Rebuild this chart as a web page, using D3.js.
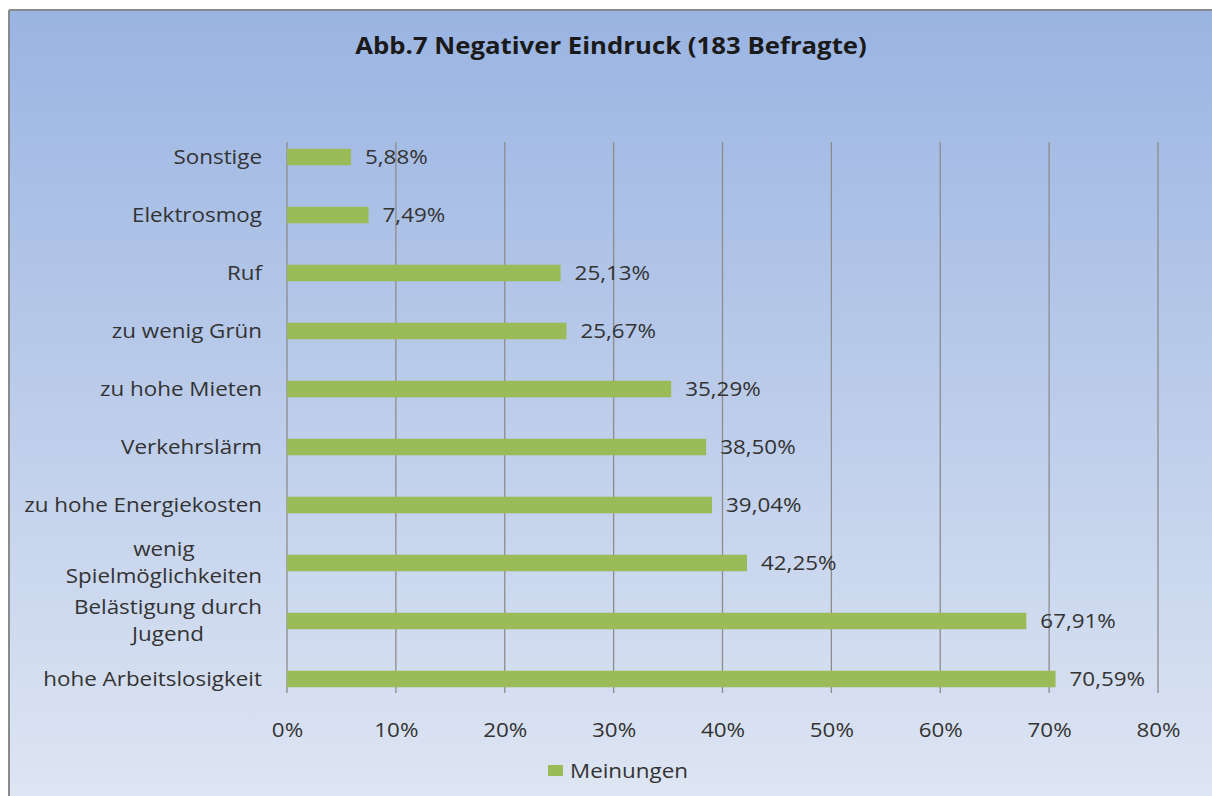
<!DOCTYPE html>
<html><head><meta charset="utf-8">
<script src="https://cdn.jsdelivr.net/npm/d3@7/dist/d3.min.js"></script>
<style>body{margin:0;background:#fff}svg{display:block}</style>
</head><body>
<svg id="c" width="1212" height="796"></svg>
<script>
const categories = ["Sonstige","Elektrosmog","Ruf","zu wenig Grün","zu hohe Mieten","Verkehrslärm","zu hohe Energiekosten","wenig Spielmöglichkeiten","Belästigung durch Jugend","hohe Arbeitslosigkeit"];
const categoryLines = [["Sonstige"],["Elektrosmog"],["Ruf"],["zu wenig Grün"],["zu hohe Mieten"],["Verkehrslärm"],["zu hohe Energiekosten"],["wenig","Spielmöglichkeiten"],["Belästigung durch","Jugend"],["hohe Arbeitslosigkeit"]];
const values = [5.88,7.49,25.13,25.67,35.29,38.50,39.04,42.25,67.91,70.59];
const ticks = [0,10,20,30,40,50,60,70,80];
const seriesName = "Meinungen";
const title = "Abb.7 Negativer Eindruck (183 Befragte)";

const svg = d3.select("#c");
const font = "'Open Sans', 'DejaVu Sans', sans-serif";
const SX = 1.12;
const defs = svg.append("defs");
const g = defs.append("linearGradient").attr("id","bg").attr("x1",0).attr("y1",0).attr("x2",0).attr("y2",1);
g.append("stop").attr("offset","0%").attr("stop-color","#9ab4e2");
g.append("stop").attr("offset","100%").attr("stop-color","#dfe6f3");
svg.append("rect").attr("x",9).attr("y",10).attr("width",1212).attr("height",800).attr("fill","url(#bg)");
svg.append("line").attr("x1",9).attr("x2",9).attr("y1",10).attr("y2",796).attr("stroke","#8a8a8a").attr("stroke-width",2);
svg.append("line").attr("x1",9).attr("x2",1212).attr("y1",10).attr("y2",10).attr("stroke","#8a8a8a").attr("stroke-width",2);

const x = d3.scaleLinear().domain([0,80]).range([287,1158]);
const y = d3.scaleBand().domain(categories).range([128,708]).paddingInner(0.715).paddingOuter(0.3575);

function stretchedText(parent, tx, ty){
  return parent.append("g").attr("transform",`translate(${tx},${ty}) scale(${SX},1)`).append("text");
}

stretchedText(svg, 611, 54).attr("text-anchor","middle")
  .attr("font-family",font).attr("font-weight","bold").attr("font-size",23).attr("fill","#1a1a1a").text(title);

// gridlines
svg.append("g").selectAll("line").data(ticks).join("line")
  .attr("x1",d=>x(d)).attr("x2",d=>x(d)).attr("y1",142).attr("y2",693)
  .attr("stroke","#8c8c8c").attr("stroke-width",1.3);

// x axis labels
const xAxis = d3.axisBottom(x).tickValues(ticks).tickFormat(d=>d+"%").tickSize(0).tickPadding(0);
const ax = svg.append("g").attr("transform","translate(0,723)").call(xAxis);
ax.select(".domain").remove();
ax.selectAll("text").attr("font-family",font).attr("font-size",20).attr("fill","#333").attr("dy","0.71em")
  .attr("transform",`scale(${SX},1)`);

// bars
svg.append("g").selectAll("rect").data(values).join("rect")
  .attr("x",x(0)).attr("y",(d,i)=>y(categories[i]))
  .attr("width",d=>x(d)-x(0)).attr("height",y.bandwidth()).attr("fill","#9bbb59");

// value labels
const vl = svg.append("g");
values.forEach((d,i)=>{
  stretchedText(vl, x(d)+14, y(categories[i])+y.bandwidth()/2).attr("dy","0.35em")
    .attr("font-family",font).attr("font-size",20).attr("fill","#333")
    .text(d.toFixed(2).replace(".",",")+"%");
});

// category labels
const cg = svg.append("g");
categories.forEach((c,i)=>{
  const lines = categoryLines[i];
  const cy = y(c)+y.bandwidth()/2;
  const t = stretchedText(cg, 262, 0).attr("font-family",font).attr("font-size",20).attr("fill","#333");
  if (lines.length===1){
    t.attr("text-anchor","end").attr("y",cy).attr("dy","0.35em").text(lines[0]);
  } else {
    // measure widest line
    const spans = lines.map((l,j)=>t.append("tspan").attr("y", cy + (j-(lines.length-1)/2)*27).attr("dy","0.35em").text(l));
    const w = Math.max(...spans.map(s=>s.node().getComputedTextLength()));
    spans.forEach(s=>s.attr("x",-w/2).attr("text-anchor","middle"));
  }
});

// legend
svg.append("rect").attr("x",548).attr("y",765).attr("width",15).attr("height",11).attr("fill","#9bbb59");
stretchedText(svg, 570, 771).attr("dy","0.35em").attr("font-family",font).attr("font-size",20).attr("fill","#333").text(seriesName);
</script>
</body></html>
